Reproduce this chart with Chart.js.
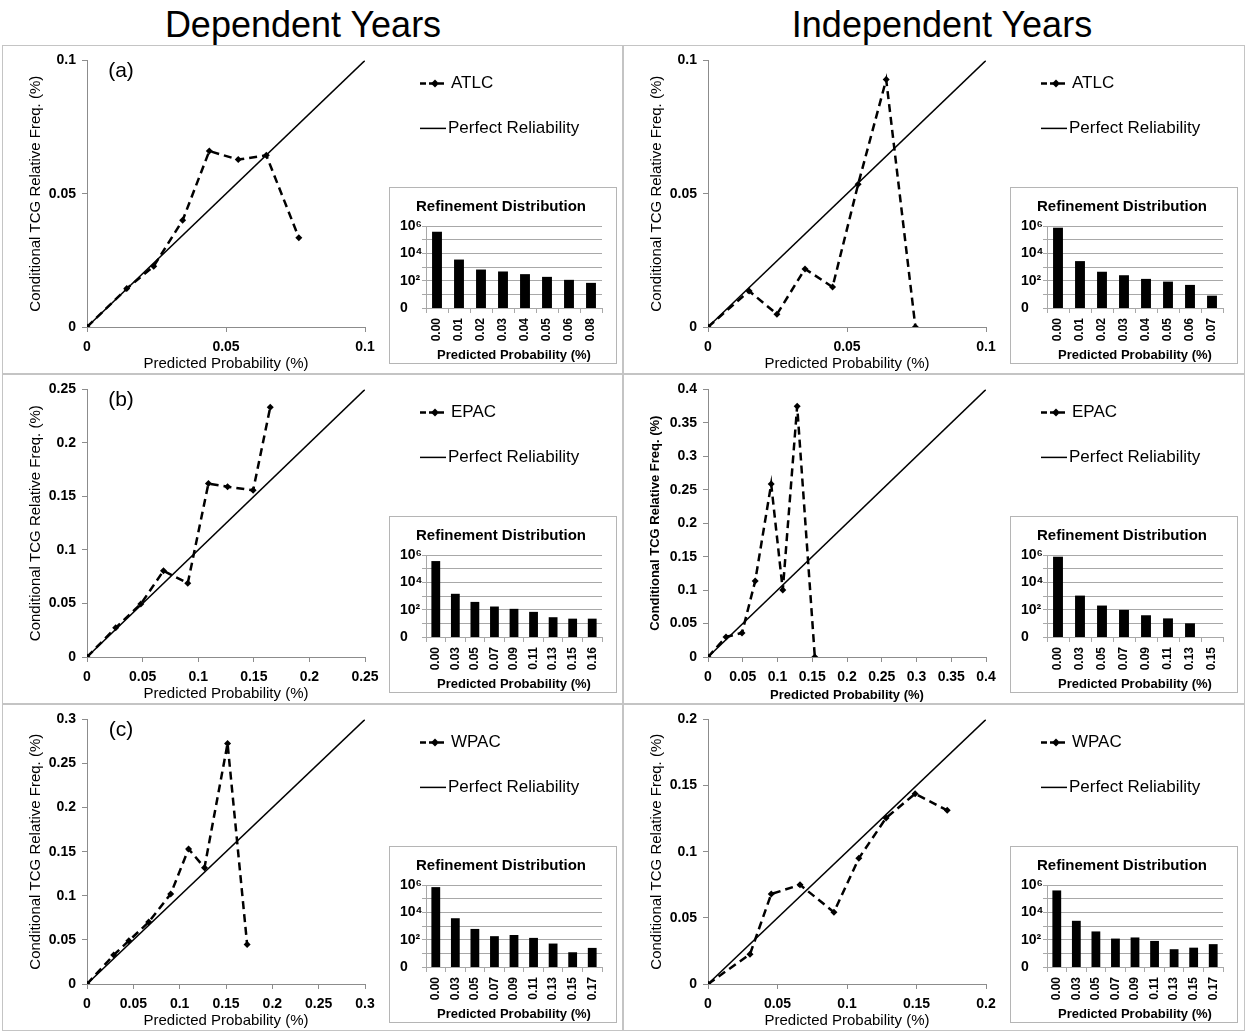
<!DOCTYPE html>
<html>
<head>
<meta charset="utf-8">
<title>Reliability diagrams - Dependent / Independent Years</title>
<script src="https://cdn.jsdelivr.net/npm/chart.js@4.4.1/dist/chart.umd.min.js"></script>
<style>
  body { margin: 0; background: #fff; font-family: 'Liberation Sans', Arial, sans-serif; }
  #page { position: relative; width: 1247px; height: 1032px; overflow: hidden; background: #fff; }
  .colTitle { position: absolute; top: 4px; width: 600px; text-align: center; font-size: 36px; color: #000; }
  .panel { position: absolute; outline: 1px solid #c4c4c4; background: #fff; }
  .panel canvas.main { position: absolute; left: 0; top: 0; }
  .inset { position: absolute; left: 386px; top: 141px; width: 226px; height: 175px; border: 1px solid #b5b5b5; background: #fff; }
  .inset canvas { position: absolute; left: 0; top: 0; }
</style>
</head>
<body>
<div id="page">
  <div class="colTitle" style="left:3px">Dependent Years</div>
  <div class="colTitle" style="left:642px">Independent Years</div>
</div>
<script>
// reliability curves (predicted probability vs conditional TCG relative freq., %)
const atlcDepProb = [0, 0.0143, 0.024, 0.0344, 0.044, 0.0544, 0.0645, 0.0762];
const atlcDepFreq = [0, 0.0144, 0.0228, 0.040, 0.066, 0.0628, 0.0644, 0.0335];
const atlcIndProb = [0, 0.0148, 0.0248, 0.0349, 0.0448, 0.054, 0.0641, 0.0746];
const atlcIndFreq = [0, 0.0135, 0.0048, 0.0218, 0.015, 0.0535, 0.0928, 0];

const epacDepProb = [0, 0.0258, 0.0484, 0.0688, 0.0906, 0.1092, 0.1264, 0.1494, 0.1648];
const epacDepFreq = [0, 0.0273, 0.0495, 0.0805, 0.0689, 0.162, 0.1591, 0.1557, 0.2334];
const epacIndProb = [0, 0.0259, 0.0489, 0.0679, 0.0909, 0.1076, 0.1283, 0.1537];
const epacIndFreq = [0, 0.030, 0.036, 0.1135, 0.2585, 0.100, 0.375, 0];

const wpacDepProb = [0, 0.0288, 0.0451, 0.0666, 0.0903, 0.1096, 0.1268, 0.1517, 0.1728];
const wpacDepFreq = [0, 0.0329, 0.0489, 0.0702, 0.102, 0.1532, 0.1319, 0.2727, 0.0448];
const wpacIndProb = [0, 0.0302, 0.0455, 0.0662, 0.0906, 0.1085, 0.1281, 0.149, 0.1721];
const wpacIndFreq = [0, 0.0225, 0.068, 0.075, 0.0543, 0.095, 0.1255, 0.1438, 0.1313];

// axis ranges of the reliability plots
const axisMax = { atlcDep: 0.1, atlcInd: 0.1, epacDep: 0.25, epacInd: 0.4, wpacDep: 0.3, wpacInd: 0.2 };
const axisStep = 0.05;

// refinement distributions (counts per forecast bin)
const atlcDepBins = ['0.00', '0.01', '0.02', '0.03', '0.04', '0.05', '0.06', '0.08'];
const atlcDepCounts = [380000, 3500, 650, 470, 300, 190, 115, 69];
const atlcIndBins = ['0.00', '0.01', '0.02', '0.03', '0.04', '0.05', '0.06', '0.07'];
const atlcIndCounts = [750000, 2700, 450, 250, 135, 85, 49, 8];
const epacDepBins = ['0.00', '0.03', '0.05', '0.07', '0.09', '0.11', '0.13', '0.15', '0.16'];
const epacDepCounts = [360000, 1450, 370, 170, 115, 69, 28, 22, 22];
const epacIndBins = ['0.00', '0.03', '0.05', '0.07', '0.09', '0.11', '0.13', '0.15'];
const epacIndCounts = [750000, 1070, 200, 96, 39, 23, 10, 0];
const wpacDepBins = ['0.00', '0.03', '0.05', '0.07', '0.09', '0.11', '0.13', '0.15', '0.17'];
const wpacDepCounts = [700000, 3700, 610, 180, 220, 135, 52, 12, 25];
const wpacIndBins = ['0.00', '0.03', '0.05', '0.07', '0.09', '0.11', '0.13', '0.15', '0.17'];
const wpacIndCounts = [400000, 2400, 400, 120, 145, 81, 20, 26, 47];

const refinementTicks = [1, 10, 100, 1000, 10000, 100000, 1000000];
const refinementTickLabels = ['0', '', '10\u00B2', '', '10\u2074', '', '10\u2076'];

const FONT = "'Liberation Sans', Arial, sans-serif";
Chart.defaults.font.family = FONT;
Chart.defaults.color = '#000';

const panels = [
  { key: 'atlcDep', name: 'ATLC', tag: '(a)', col: 0, row: 0, prob: atlcDepProb, freq: atlcDepFreq, bins: atlcDepBins, counts: atlcDepCounts },
  { key: 'atlcInd', name: 'ATLC', tag: '', col: 1, row: 0, prob: atlcIndProb, freq: atlcIndFreq, bins: atlcIndBins, counts: atlcIndCounts },
  { key: 'epacDep', name: 'EPAC', tag: '(b)', col: 0, row: 1, prob: epacDepProb, freq: epacDepFreq, bins: epacDepBins, counts: epacDepCounts },
  { key: 'epacInd', name: 'EPAC', tag: '', col: 1, row: 1, prob: epacIndProb, freq: epacIndFreq, bins: epacIndBins, counts: epacIndCounts, boldAxes: true },
  { key: 'wpacDep', name: 'WPAC', tag: '(c)', col: 0, row: 2, prob: wpacDepProb, freq: wpacDepFreq, bins: wpacDepBins, counts: wpacDepCounts },
  { key: 'wpacInd', name: 'WPAC', tag: '', col: 1, row: 2, prob: wpacIndProb, freq: wpacIndFreq, bins: wpacIndBins, counts: wpacIndCounts }
];

const colLeft = [3, 624], colWidth = [619, 620];
const rowTop = [46, 375, 705], rowHeight = [327, 328, 325];

// legend + panel letter drawn next to the plot area
const panelDecor = {
  id: 'panelDecor',
  afterDraw(chart, args, opts) {
    const { ctx, chartArea } = chart;
    const x0 = chartArea.right + 55;
    ctx.save();
    ctx.strokeStyle = '#000';
    ctx.fillStyle = '#000';
    ctx.textBaseline = 'middle';
    ctx.font = '17px ' + FONT;

    let y = chartArea.top + 23;
    ctx.lineWidth = 2.5;
    ctx.setLineDash([6, 3]);
    ctx.beginPath(); ctx.moveTo(x0, y); ctx.lineTo(x0 + 26, y); ctx.stroke();
    ctx.setLineDash([]);
    const cx = x0 + 15;
    ctx.beginPath();
    ctx.moveTo(cx, y - 4); ctx.lineTo(cx + 4, y); ctx.lineTo(cx, y + 4); ctx.lineTo(cx - 4, y);
    ctx.closePath(); ctx.fill();
    ctx.fillText(opts.name, x0 + 31, y);

    y = chartArea.top + 68;
    ctx.lineWidth = 1.5;
    ctx.beginPath(); ctx.moveTo(x0, y); ctx.lineTo(x0 + 26, y); ctx.stroke();
    ctx.fillText('Perfect Reliability', x0 + 28, y);

    if (opts.tag) {
      ctx.font = '21px ' + FONT;
      ctx.textAlign = 'center';
      ctx.fillText(opts.tag, chartArea.left + 34, chartArea.top + 11);
    }
    ctx.restore();
  }
};

function fmtTick(v) {
  return String(Number(v.toFixed(4)));
}

function makeReliability(canvas, p) {
  const max = axisMax[p.key];
  const axisFont = p.boldAxes ? { size: 13, weight: 'bold' } : { size: 15 };
  const tickFont = { size: 14, weight: 'bold' };
  const axisColor = '#8c8c8c';
  return new Chart(canvas, {
    type: 'scatter',
    data: {
      datasets: [{
        label: p.name,
        data: p.prob.map((x, i) => ({ x: x, y: p.freq[i] })),
        showLine: true,
        borderColor: '#000',
        backgroundColor: '#000',
        borderWidth: 2.5,
        borderDash: [8, 5],
        pointStyle: 'rectRot',
        pointRadius: 3.5,
        pointBorderWidth: 0
      }, {
        label: 'Perfect Reliability',
        data: [{ x: 0, y: 0 }, { x: max, y: max }],
        showLine: true,
        borderColor: '#000',
        borderWidth: 1.5,
        pointRadius: 0
      }]
    },
    options: {
      responsive: false,
      animation: false,
      events: [],
      layout: { padding: { left: 0, top: 14, right: canvas.width - 362, bottom: 0 } },
      plugins: {
        legend: { display: false },
        tooltip: { enabled: false },
        panelDecor: { name: p.name, tag: p.tag }
      },
      scales: {
        x: {
          type: 'linear', min: 0, max: max,
          ticks: { stepSize: axisStep, font: tickFont, color: '#000', padding: 7, callback: fmtTick, autoSkip: false, maxRotation: 0 },
          grid: { drawOnChartArea: false, tickLength: 5, color: axisColor },
          border: { color: axisColor },
          title: { display: true, text: 'Predicted Probability (%)', font: axisFont, color: '#000', padding: 0 },
          afterFit(s) { s.height = 46; }
        },
        y: {
          type: 'linear', min: 0, max: max,
          ticks: { stepSize: axisStep, font: tickFont, color: '#000', padding: 6, callback: fmtTick, autoSkip: false },
          grid: { drawOnChartArea: false, tickLength: 5, color: axisColor },
          border: { color: axisColor },
          title: { display: true, text: 'Conditional TCG Relative Freq. (%)', font: axisFont, color: '#000', padding: { top: 24, bottom: 0 } },
          afterFit(s) { s.width = 84; }
        }
      }
    },
    plugins: [panelDecor]
  });
}

function makeRefinement(canvas, p) {
  const gridColor = '#a8a8a8';
  return new Chart(canvas, {
    type: 'bar',
    data: {
      labels: p.bins,
      datasets: [{
        data: p.counts.map(v => (v > 0 ? v : null)),
        backgroundColor: '#000',
        barPercentage: 0.45,
        categoryPercentage: 1
      }]
    },
    options: {
      responsive: false,
      animation: false,
      events: [],
      layout: { padding: { left: 10, right: 14, top: 0, bottom: 0 } },
      plugins: {
        legend: { display: false },
        tooltip: { enabled: false },
        title: {
          display: true, text: 'Refinement Distribution', color: '#000',
          font: { size: 15, weight: 'bold' }, padding: { top: 10, bottom: 10 }
        }
      },
      scales: {
        x: {
          ticks: { minRotation: 90, maxRotation: 90, autoSkip: false, font: { size: 12, weight: 'bold' }, color: '#000', padding: 5 },
          grid: { offset: true, drawOnChartArea: false, tickLength: 5, color: gridColor },
          border: { color: gridColor },
          title: { display: true, text: 'Predicted Probability (%)', font: { size: 13, weight: 'bold' }, color: '#000', padding: 0 },
          afterFit(s) { s.height = 55; }
        },
        y: {
          type: 'logarithmic', min: 1, max: 1000000,
          afterBuildTicks(s) { s.ticks = refinementTicks.map(v => ({ value: v })); },
          ticks: {
            autoSkip: false, crossAlign: 'far', padding: 3,
            font: { size: 14, weight: 'bold' }, color: '#000',
            callback: (v, i) => refinementTickLabels[i]
          },
          grid: { color: gridColor, tickLength: 4 },
          border: { color: gridColor },
          afterFit(s) { s.width = 26; }
        }
      }
    }
  });
}

const page = document.getElementById('page');
panels.forEach(p => {
  const div = document.createElement('div');
  div.className = 'panel';
  div.style.left = colLeft[p.col] + 'px';
  div.style.top = rowTop[p.row] + 'px';
  div.style.width = colWidth[p.col] + 'px';
  div.style.height = rowHeight[p.row] + 'px';
  page.appendChild(div);

  const main = document.createElement('canvas');
  main.className = 'main';
  main.width = colWidth[p.col];
  main.height = rowHeight[p.row];
  div.appendChild(main);
  makeReliability(main, p);

  const inset = document.createElement('div');
  inset.className = 'inset';
  div.appendChild(inset);
  const ic = document.createElement('canvas');
  ic.width = 226;
  ic.height = 175;
  inset.appendChild(ic);
  makeRefinement(ic, p);
});
</script>
</body>
</html>
